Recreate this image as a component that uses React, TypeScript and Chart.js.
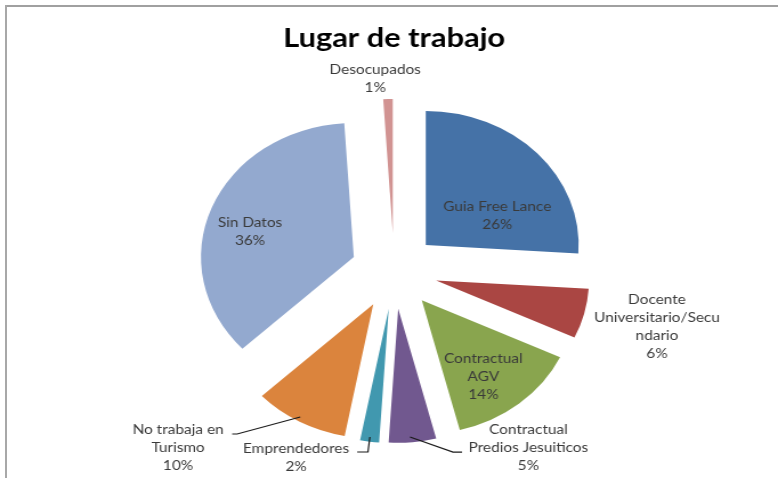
import React, { useEffect, useRef } from 'react';
import { Chart, registerables } from 'chart.js';

Chart.register(...registerables);

// ---- data ----
const categories = [
  'Guia Free Lance',
  'Docente Universitario/Secundario',
  'Contractual AGV',
  'Contractual Predios Jesuiticos',
  'Emprendedores',
  'No trabaja en Turismo',
  'Sin Datos',
  'Desocupados',
];
const values = [26, 6, 14, 5, 2, 10, 36, 1];
const labelLines = [
  ['Guia Free Lance'],
  ['Docente', 'Universitario/Secu', 'ndario'],
  ['Contractual', 'AGV'],
  ['Contractual', 'Predios Jesuiticos'],
  ['Emprendedores'],
  ['No trabaja en', 'Turismo'],
  ['Sin Datos'],
  ['Desocupados'],
];
const colors = ['#4572A7', '#AA4643', '#89A54E', '#71588F', '#4198AF', '#DB843D', '#93A9CF', '#D19392'];
const title = 'Lugar de trabajo';

// ---- layout (relative to each exploded slice's apex, in chart px) ----
const EXPLODE = 38;
const labelOffsets: [number, number][] = [
  [62.7, -29],
  [193.6, 46.5],
  [54, 76.7],
  [114.1, 139.2],
  [-81.2, 148.8],
  [-171.1, 143.7],
  [-91, -25],
  [-15.4, -154],
];
const leaderLines: Record<number, [number, number][]> = {
  5: [[-123.7, 129.7], [-119.3, 129.7], [-64, 112.7]],
  4: [[-27.6, 143.3], [-18.2, 143.3], [-16.5, 128.3]],
  3: [[10.3, 128.2], [48, 143.2], [55.9, 143.2]],
};
const LINE_H = 18;
const SCALE_X = 778 / 682;

function apexOf(arc: any) {
  const p = arc.getProps(['x', 'y', 'startAngle', 'endAngle'], true);
  const mid = (p.startAngle + p.endAngle) / 2;
  return { x: p.x + Math.cos(mid) * EXPLODE, y: p.y + Math.sin(mid) * EXPLODE, mid };
}

const explodePlugin = {
  id: 'explodeSlices',
  beforeDatasetDraw(chart: any, args: any) {
    const ctx = chart.ctx;
    args.meta.data.forEach((arc: any) => {
      const p = arc.getProps(['startAngle', 'endAngle'], true);
      const mid = (p.startAngle + p.endAngle) / 2;
      ctx.save();
      ctx.translate(Math.cos(mid) * EXPLODE, Math.sin(mid) * EXPLODE);
      arc.draw(ctx);
      ctx.restore();
    });
    return false;
  },
  afterDatasetsDraw(chart: any) {
    const ctx = chart.ctx;
    const meta = chart.getDatasetMeta(0);
    ctx.save();
    // leader lines
    ctx.strokeStyle = '#1a1a1a';
    ctx.lineWidth = 1.2;
    Object.keys(leaderLines).forEach((k) => {
      const i = Number(k);
      const a = apexOf(meta.data[i]);
      const pts = leaderLines[i];
      ctx.beginPath();
      pts.forEach((pt, j) => {
        const x = a.x + pt[0];
        const y = a.y + pt[1];
        if (j === 0) ctx.moveTo(x, y);
        else ctx.lineTo(x, y);
      });
      ctx.stroke();
    });
    // labels
    ctx.fillStyle = '#3a3a3a';
    ctx.font = '13.5px Lato';
    ctx.textAlign = 'center';
    ctx.textBaseline = 'middle';
    meta.data.forEach((arc: any, i: number) => {
      const a = apexOf(arc);
      const lines = [...labelLines[i], `${values[i]}%`];
      const cx = a.x + labelOffsets[i][0];
      const cy = a.y + labelOffsets[i][1];
      lines.forEach((t, j) => {
        ctx.fillText(t, cx, cy + (j - (lines.length - 1) / 2) * LINE_H);
      });
    });
    ctx.restore();
  },
};

export default function App() {
  const ref = useRef<HTMLCanvasElement | null>(null);
  useEffect(() => {
    document.body.style.margin = '0';
    if (!ref.current) return;
    const chart = new Chart(ref.current, {
      type: 'pie',
      data: {
        labels: categories,
        datasets: [
          {
            data: values,
            backgroundColor: colors,
            borderWidth: 0,
          },
        ],
      },
      options: {
        animation: false,
        responsive: true,
        maintainAspectRatio: false,
        layout: { padding: { top: 10, left: 100, right: 91, bottom: 73 } },
        plugins: {
          legend: { display: false },
          tooltip: { enabled: false },
          title: {
            display: true,
            text: title,
            color: '#000000',
            font: { family: 'Lato', size: 27, weight: 'bold', lineHeight: 1.2 },
            padding: { top: 12, bottom: 82.6 },
          },
        },
      },
      plugins: [explodePlugin],
    });
    return () => chart.destroy();
  }, []);

  return (
    <div style={{ position: 'fixed', left: 0, top: 0, width: 778, height: 478, overflow: 'hidden', background: '#ffffff' }}>
      <div style={{ position: 'absolute', left: 5, top: 5, right: 0, height: 2, background: '#a0a0a0' }} />
      <div style={{ position: 'absolute', left: 5, top: 5, bottom: 0, width: 2, background: '#a8a8a8' }} />
      <div
        style={{
          position: 'absolute',
          left: 0,
          top: 0,
          width: 682,
          height: 478,
          transform: `scaleX(${SCALE_X})`,
          transformOrigin: '0 0',
        }}
      >
        <canvas ref={ref} />
      </div>
    </div>
  );
}
